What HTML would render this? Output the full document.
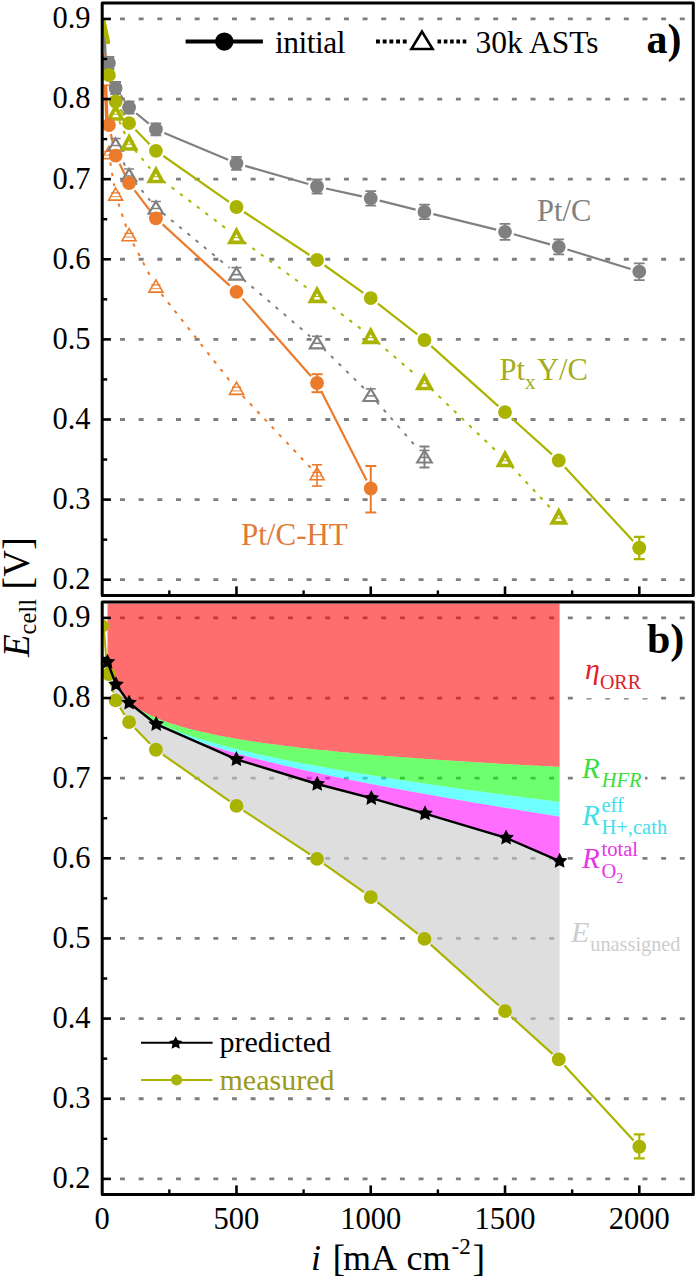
<!DOCTYPE html>
<html><head><meta charset="utf-8"><style>
html,body{margin:0;padding:0;background:#fff;width:698px;height:1280px;overflow:hidden}
svg{display:block;font-family:"Liberation Serif",serif}
</style></head><body>
<svg width="698" height="1280" viewBox="0 0 698 1280">
<rect width="698" height="1280" fill="#fff"/>
<defs><clipPath id="ca"><rect x="102.2" y="3.0" width="591.0999999999999" height="592.4"/></clipPath><clipPath id="cb"><rect x="102.2" y="601.9" width="591.0999999999999" height="592.5000000000001"/></clipPath></defs>
<g clip-path="url(#ca)">
<line x1="120" y1="18.95" x2="691.30" y2="18.95" stroke="#7f7f7f" stroke-width="2.8" stroke-dasharray="5 13.66"/>
<line x1="120" y1="99.06" x2="691.30" y2="99.06" stroke="#7f7f7f" stroke-width="2.8" stroke-dasharray="5 13.66"/>
<line x1="120" y1="179.16" x2="691.30" y2="179.16" stroke="#7f7f7f" stroke-width="2.8" stroke-dasharray="5 13.66"/>
<line x1="120" y1="259.27" x2="691.30" y2="259.27" stroke="#7f7f7f" stroke-width="2.8" stroke-dasharray="5 13.66"/>
<line x1="120" y1="339.38" x2="691.30" y2="339.38" stroke="#7f7f7f" stroke-width="2.8" stroke-dasharray="5 13.66"/>
<line x1="120" y1="419.49" x2="691.30" y2="419.49" stroke="#7f7f7f" stroke-width="2.8" stroke-dasharray="5 13.66"/>
<line x1="120" y1="499.59" x2="691.30" y2="499.59" stroke="#7f7f7f" stroke-width="2.8" stroke-dasharray="5 13.66"/>
<line x1="120" y1="579.70" x2="691.30" y2="579.70" stroke="#7f7f7f" stroke-width="2.8" stroke-dasharray="5 13.66"/>
<line x1="104" y1="20" x2="105.5" y2="56" stroke="#808080" stroke-width="2.5"/>
<line x1="104.5" y1="60" x2="107" y2="124" stroke="#eb7a2a" stroke-width="3.5"/>
<circle cx="103.5" cy="61" r="6.6" fill="#eb7a2a"/>
<polygon points="104.50,72.75 111.50,85.25 97.50,85.25" fill="#fff" stroke="#eb7a2a" stroke-width="1.6" stroke-linejoin="miter"/>
<line x1="103.5" y1="22" x2="108" y2="42" stroke="#aab400" stroke-width="4.5" stroke-linecap="round"/>
<line x1="110.35" y1="162.38" x2="114.19" y2="186.12" stroke="#eb7a2a" stroke-width="2.0" stroke-dasharray="3.4 7.2"/>
<line x1="118.45" y1="203.54" x2="126.23" y2="227.06" stroke="#eb7a2a" stroke-width="2.0" stroke-dasharray="3.4 7.2"/>
<line x1="133.22" y1="243.58" x2="151.74" y2="279.02" stroke="#eb7a2a" stroke-width="2.0" stroke-dasharray="3.4 7.2"/>
<line x1="161.48" y1="294.07" x2="230.91" y2="382.23" stroke="#eb7a2a" stroke-width="2.0" stroke-dasharray="3.4 7.2"/>
<line x1="242.65" y1="395.84" x2="310.86" y2="468.06" stroke="#eb7a2a" stroke-width="2.0" stroke-dasharray="3.4 7.2"/>
<line x1="119.25" y1="152.74" x2="125.43" y2="166.76" stroke="#808080" stroke-width="2.0" stroke-dasharray="3.4 7.2"/>
<line x1="134.79" y1="181.94" x2="150.18" y2="200.56" stroke="#808080" stroke-width="2.0" stroke-dasharray="3.4 7.2"/>
<line x1="162.87" y1="213.21" x2="229.52" y2="267.89" stroke="#808080" stroke-width="2.0" stroke-dasharray="3.4 7.2"/>
<line x1="243.32" y1="279.44" x2="310.19" y2="336.46" stroke="#808080" stroke-width="2.0" stroke-dasharray="3.4 7.2"/>
<line x1="323.47" y1="348.60" x2="364.32" y2="388.60" stroke="#808080" stroke-width="2.0" stroke-dasharray="3.4 7.2"/>
<line x1="376.67" y1="401.68" x2="418.54" y2="449.62" stroke="#808080" stroke-width="2.0" stroke-dasharray="3.4 7.2"/>
<line x1="119.30" y1="121.21" x2="125.38" y2="134.79" stroke="#aab400" stroke-width="2.0" stroke-dasharray="3.4 7.2"/>
<line x1="134.79" y1="149.94" x2="150.18" y2="168.56" stroke="#aab400" stroke-width="2.0" stroke-dasharray="3.4 7.2"/>
<line x1="163.09" y1="180.93" x2="229.30" y2="230.97" stroke="#aab400" stroke-width="2.0" stroke-dasharray="3.4 7.2"/>
<line x1="243.74" y1="241.71" x2="309.77" y2="289.99" stroke="#aab400" stroke-width="2.0" stroke-dasharray="3.4 7.2"/>
<line x1="324.19" y1="300.77" x2="363.60" y2="330.93" stroke="#aab400" stroke-width="2.0" stroke-dasharray="3.4 7.2"/>
<line x1="377.58" y1="342.26" x2="417.63" y2="376.64" stroke="#aab400" stroke-width="2.0" stroke-dasharray="3.4 7.2"/>
<line x1="430.97" y1="388.72" x2="498.52" y2="453.28" stroke="#aab400" stroke-width="2.0" stroke-dasharray="3.4 7.2"/>
<line x1="511.17" y1="466.07" x2="552.59" y2="510.33" stroke="#aab400" stroke-width="2.0" stroke-dasharray="3.4 7.2"/>
<line x1="110.86" y1="133.89" x2="113.68" y2="146.71" stroke="#eb7a2a" stroke-width="2.2"/>
<line x1="119.62" y1="163.78" x2="125.06" y2="174.92" stroke="#eb7a2a" stroke-width="2.2"/>
<line x1="134.57" y1="190.33" x2="150.39" y2="211.07" stroke="#eb7a2a" stroke-width="2.2"/>
<line x1="162.63" y1="224.43" x2="229.75" y2="285.67" stroke="#eb7a2a" stroke-width="2.2"/>
<line x1="242.50" y1="298.62" x2="311.02" y2="376.18" stroke="#eb7a2a" stroke-width="2.2"/>
<line x1="321.17" y1="391.11" x2="366.62" y2="480.39" stroke="#eb7a2a" stroke-width="2.2"/>
<line x1="111.27" y1="71.79" x2="113.27" y2="79.21" stroke="#808080" stroke-width="2.2"/>
<line x1="120.79" y1="95.49" x2="123.89" y2="100.01" stroke="#808080" stroke-width="2.2"/>
<line x1="136.11" y1="113.25" x2="148.86" y2="123.65" stroke="#808080" stroke-width="2.2"/>
<line x1="164.29" y1="132.94" x2="228.09" y2="159.86" stroke="#808080" stroke-width="2.2"/>
<line x1="245.22" y1="165.91" x2="308.29" y2="183.99" stroke="#808080" stroke-width="2.2"/>
<line x1="325.92" y1="188.47" x2="361.87" y2="196.43" stroke="#808080" stroke-width="2.2"/>
<line x1="379.58" y1="200.62" x2="415.63" y2="209.68" stroke="#808080" stroke-width="2.2"/>
<line x1="433.29" y1="214.08" x2="496.19" y2="229.62" stroke="#808080" stroke-width="2.2"/>
<line x1="513.79" y1="234.25" x2="549.97" y2="244.35" stroke="#808080" stroke-width="2.2"/>
<line x1="567.43" y1="249.49" x2="630.61" y2="269.01" stroke="#808080" stroke-width="2.2"/>
<line x1="111.15" y1="83.82" x2="113.39" y2="92.68" stroke="#aab400" stroke-width="2.2"/>
<line x1="120.42" y1="109.24" x2="124.27" y2="115.46" stroke="#aab400" stroke-width="2.2"/>
<line x1="135.40" y1="129.72" x2="149.56" y2="144.28" stroke="#aab400" stroke-width="2.2"/>
<line x1="163.37" y1="156.01" x2="229.01" y2="201.79" stroke="#aab400" stroke-width="2.2"/>
<line x1="244.08" y1="212.00" x2="309.44" y2="255.00" stroke="#aab400" stroke-width="2.2"/>
<line x1="324.46" y1="265.27" x2="363.33" y2="292.83" stroke="#aab400" stroke-width="2.2"/>
<line x1="377.92" y1="303.70" x2="417.29" y2="334.40" stroke="#aab400" stroke-width="2.2"/>
<line x1="431.24" y1="346.07" x2="498.25" y2="406.13" stroke="#aab400" stroke-width="2.2"/>
<line x1="511.79" y1="418.28" x2="551.97" y2="454.42" stroke="#aab400" stroke-width="2.2"/>
<line x1="564.91" y1="467.19" x2="633.13" y2="541.11" stroke="#aab400" stroke-width="2.2"/>
<polygon points="108.91,146.40 115.91,158.60 101.91,158.60" fill="#fff" stroke="#eb7a2a" stroke-width="1.6" stroke-linejoin="miter"/>
<polygon points="115.63,187.90 122.63,200.10 108.63,200.10" fill="#fff" stroke="#eb7a2a" stroke-width="1.6" stroke-linejoin="miter"/>
<polygon points="129.06,228.50 136.06,240.70 122.06,240.70" fill="#fff" stroke="#eb7a2a" stroke-width="1.6" stroke-linejoin="miter"/>
<polygon points="155.91,279.90 162.91,292.10 148.91,292.10" fill="#fff" stroke="#eb7a2a" stroke-width="1.6" stroke-linejoin="miter"/>
<polygon points="236.48,382.20 243.48,394.40 229.48,394.40" fill="#fff" stroke="#eb7a2a" stroke-width="1.6" stroke-linejoin="miter"/>
<polygon points="317.04,467.50 324.04,479.70 310.04,479.70" fill="#fff" stroke="#eb7a2a" stroke-width="1.6" stroke-linejoin="miter"/>
<polygon points="115.63,138.40 122.88,150.60 108.38,150.60" fill="#fff" stroke="#808080" stroke-width="2.2" stroke-linejoin="miter"/>
<polygon points="129.06,168.90 136.31,181.10 121.81,181.10" fill="#fff" stroke="#808080" stroke-width="2.2" stroke-linejoin="miter"/>
<polygon points="155.91,201.40 163.16,213.60 148.66,213.60" fill="#fff" stroke="#808080" stroke-width="2.2" stroke-linejoin="miter"/>
<polygon points="236.48,267.50 243.73,279.70 229.23,279.70" fill="#fff" stroke="#808080" stroke-width="2.2" stroke-linejoin="miter"/>
<polygon points="317.04,336.20 324.29,348.40 309.79,348.40" fill="#fff" stroke="#808080" stroke-width="2.2" stroke-linejoin="miter"/>
<polygon points="370.75,388.80 378.00,401.00 363.50,401.00" fill="#fff" stroke="#808080" stroke-width="2.2" stroke-linejoin="miter"/>
<polygon points="424.46,450.30 431.71,462.50 417.21,462.50" fill="#fff" stroke="#808080" stroke-width="2.2" stroke-linejoin="miter"/>
<polygon points="115.63,107.00 122.13,119.00 109.13,119.00" fill="#fff" stroke="#aab400" stroke-width="3.7" stroke-linejoin="miter"/>
<polygon points="129.06,137.00 135.56,149.00 122.56,149.00" fill="#fff" stroke="#aab400" stroke-width="3.7" stroke-linejoin="miter"/>
<polygon points="155.91,169.50 162.41,181.50 149.41,181.50" fill="#fff" stroke="#aab400" stroke-width="3.7" stroke-linejoin="miter"/>
<polygon points="236.48,230.40 242.98,242.40 229.98,242.40" fill="#fff" stroke="#aab400" stroke-width="3.7" stroke-linejoin="miter"/>
<polygon points="317.04,289.30 323.54,301.30 310.54,301.30" fill="#fff" stroke="#aab400" stroke-width="3.7" stroke-linejoin="miter"/>
<polygon points="370.75,330.40 377.25,342.40 364.25,342.40" fill="#fff" stroke="#aab400" stroke-width="3.7" stroke-linejoin="miter"/>
<polygon points="424.46,376.50 430.96,388.50 417.96,388.50" fill="#fff" stroke="#aab400" stroke-width="3.7" stroke-linejoin="miter"/>
<polygon points="505.02,453.50 511.52,465.50 498.52,465.50" fill="#fff" stroke="#aab400" stroke-width="3.7" stroke-linejoin="miter"/>
<polygon points="558.74,510.90 565.24,522.90 552.24,522.90" fill="#fff" stroke="#aab400" stroke-width="3.7" stroke-linejoin="miter"/>
<line x1="104.31" y1="151.30" x2="113.51" y2="151.30" stroke="#eb7a2a" stroke-width="1.3"/>
<line x1="104.31" y1="155.10" x2="113.51" y2="155.10" stroke="#eb7a2a" stroke-width="1.3" stroke-opacity="0.7"/>
<line x1="111.03" y1="192.80" x2="120.23" y2="192.80" stroke="#eb7a2a" stroke-width="1.3"/>
<line x1="111.03" y1="196.60" x2="120.23" y2="196.60" stroke="#eb7a2a" stroke-width="1.3" stroke-opacity="0.7"/>
<line x1="124.46" y1="233.40" x2="133.66" y2="233.40" stroke="#eb7a2a" stroke-width="1.3"/>
<line x1="124.46" y1="237.20" x2="133.66" y2="237.20" stroke="#eb7a2a" stroke-width="1.3" stroke-opacity="0.7"/>
<line x1="151.31" y1="284.80" x2="160.51" y2="284.80" stroke="#eb7a2a" stroke-width="1.3"/>
<line x1="151.31" y1="288.60" x2="160.51" y2="288.60" stroke="#eb7a2a" stroke-width="1.3" stroke-opacity="0.7"/>
<line x1="231.88" y1="387.10" x2="241.08" y2="387.10" stroke="#eb7a2a" stroke-width="1.3"/>
<line x1="231.88" y1="390.90" x2="241.08" y2="390.90" stroke="#eb7a2a" stroke-width="1.3" stroke-opacity="0.7"/>
<line x1="312.44" y1="472.40" x2="321.64" y2="472.40" stroke="#eb7a2a" stroke-width="1.3"/>
<line x1="312.44" y1="476.20" x2="321.64" y2="476.20" stroke="#eb7a2a" stroke-width="1.3" stroke-opacity="0.7"/>
<line x1="111.13" y1="145.50" x2="120.13" y2="145.50" stroke="#808080" stroke-width="1.6"/>
<line x1="110.63" y1="138.50" x2="120.63" y2="138.50" stroke="#808080" stroke-width="1.6"/>
<line x1="124.56" y1="176.00" x2="133.56" y2="176.00" stroke="#808080" stroke-width="1.6"/>
<line x1="124.06" y1="169.00" x2="134.06" y2="169.00" stroke="#808080" stroke-width="1.6"/>
<line x1="151.41" y1="208.50" x2="160.41" y2="208.50" stroke="#808080" stroke-width="1.6"/>
<line x1="150.91" y1="201.50" x2="160.91" y2="201.50" stroke="#808080" stroke-width="1.6"/>
<line x1="231.98" y1="274.60" x2="240.98" y2="274.60" stroke="#808080" stroke-width="1.6"/>
<line x1="231.48" y1="267.60" x2="241.48" y2="267.60" stroke="#808080" stroke-width="1.6"/>
<line x1="312.54" y1="343.30" x2="321.54" y2="343.30" stroke="#808080" stroke-width="1.6"/>
<line x1="312.04" y1="336.30" x2="322.04" y2="336.30" stroke="#808080" stroke-width="1.6"/>
<line x1="366.25" y1="395.90" x2="375.25" y2="395.90" stroke="#808080" stroke-width="1.6"/>
<line x1="365.75" y1="388.90" x2="375.75" y2="388.90" stroke="#808080" stroke-width="1.6"/>
<line x1="419.96" y1="457.40" x2="428.96" y2="457.40" stroke="#808080" stroke-width="1.6"/>
<line x1="419.46" y1="450.40" x2="429.46" y2="450.40" stroke="#808080" stroke-width="1.6"/>
<line x1="113.13" y1="114.20" x2="118.13" y2="114.20" stroke="#aab400" stroke-width="1.0"/>
<line x1="126.56" y1="144.20" x2="131.56" y2="144.20" stroke="#aab400" stroke-width="1.0"/>
<line x1="153.41" y1="176.70" x2="158.41" y2="176.70" stroke="#aab400" stroke-width="1.0"/>
<line x1="233.98" y1="237.60" x2="238.98" y2="237.60" stroke="#aab400" stroke-width="1.0"/>
<line x1="314.54" y1="296.50" x2="319.54" y2="296.50" stroke="#aab400" stroke-width="1.0"/>
<line x1="368.25" y1="337.60" x2="373.25" y2="337.60" stroke="#aab400" stroke-width="1.0"/>
<line x1="421.96" y1="383.70" x2="426.96" y2="383.70" stroke="#aab400" stroke-width="1.0"/>
<line x1="502.52" y1="460.70" x2="507.52" y2="460.70" stroke="#aab400" stroke-width="1.0"/>
<line x1="556.24" y1="518.10" x2="561.24" y2="518.10" stroke="#aab400" stroke-width="1.0"/>
<line x1="317.04" y1="464.80" x2="317.04" y2="486.10" stroke="#eb7a2a" stroke-width="1.6"/>
<line x1="312.04" y1="464.80" x2="322.04" y2="464.80" stroke="#eb7a2a" stroke-width="1.6"/>
<line x1="312.04" y1="486.10" x2="322.04" y2="486.10" stroke="#eb7a2a" stroke-width="1.6"/>
<line x1="424.46" y1="446.50" x2="424.46" y2="467.50" stroke="#808080" stroke-width="2"/>
<line x1="419.46" y1="446.50" x2="429.46" y2="446.50" stroke="#808080" stroke-width="2"/>
<line x1="419.46" y1="467.50" x2="429.46" y2="467.50" stroke="#808080" stroke-width="2"/>
<circle cx="108.91" cy="63.00" r="6.9" fill="#808080"/>
<line x1="108.91" y1="57.00" x2="108.91" y2="69.00" stroke="#808080" stroke-width="1.8"/>
<line x1="103.51" y1="57.00" x2="114.31" y2="57.00" stroke="#808080" stroke-width="1.8"/>
<line x1="103.51" y1="69.00" x2="114.31" y2="69.00" stroke="#808080" stroke-width="1.8"/>
<circle cx="115.63" cy="88.00" r="6.9" fill="#808080"/>
<line x1="115.63" y1="82.00" x2="115.63" y2="94.00" stroke="#808080" stroke-width="1.8"/>
<line x1="110.23" y1="82.00" x2="121.03" y2="82.00" stroke="#808080" stroke-width="1.8"/>
<line x1="110.23" y1="94.00" x2="121.03" y2="94.00" stroke="#808080" stroke-width="1.8"/>
<circle cx="129.06" cy="107.50" r="6.9" fill="#808080"/>
<line x1="129.06" y1="101.50" x2="129.06" y2="113.50" stroke="#808080" stroke-width="1.8"/>
<line x1="123.66" y1="101.50" x2="134.46" y2="101.50" stroke="#808080" stroke-width="1.8"/>
<line x1="123.66" y1="113.50" x2="134.46" y2="113.50" stroke="#808080" stroke-width="1.8"/>
<circle cx="155.91" cy="129.40" r="6.9" fill="#808080"/>
<line x1="155.91" y1="123.40" x2="155.91" y2="135.40" stroke="#808080" stroke-width="1.8"/>
<line x1="150.51" y1="123.40" x2="161.31" y2="123.40" stroke="#808080" stroke-width="1.8"/>
<line x1="150.51" y1="135.40" x2="161.31" y2="135.40" stroke="#808080" stroke-width="1.8"/>
<circle cx="236.48" cy="163.40" r="6.9" fill="#808080"/>
<line x1="236.48" y1="156.90" x2="236.48" y2="169.90" stroke="#808080" stroke-width="1.8"/>
<line x1="231.08" y1="156.90" x2="241.88" y2="156.90" stroke="#808080" stroke-width="1.8"/>
<line x1="231.08" y1="169.90" x2="241.88" y2="169.90" stroke="#808080" stroke-width="1.8"/>
<circle cx="317.04" cy="186.50" r="6.9" fill="#808080"/>
<line x1="317.04" y1="179.50" x2="317.04" y2="193.50" stroke="#808080" stroke-width="1.8"/>
<line x1="311.64" y1="179.50" x2="322.44" y2="179.50" stroke="#808080" stroke-width="1.8"/>
<line x1="311.64" y1="193.50" x2="322.44" y2="193.50" stroke="#808080" stroke-width="1.8"/>
<circle cx="370.75" cy="198.40" r="6.9" fill="#808080"/>
<line x1="370.75" y1="191.10" x2="370.75" y2="205.70" stroke="#808080" stroke-width="1.8"/>
<line x1="365.35" y1="191.10" x2="376.15" y2="191.10" stroke="#808080" stroke-width="1.8"/>
<line x1="365.35" y1="205.70" x2="376.15" y2="205.70" stroke="#808080" stroke-width="1.8"/>
<circle cx="424.46" cy="211.90" r="6.9" fill="#808080"/>
<line x1="424.46" y1="204.60" x2="424.46" y2="219.20" stroke="#808080" stroke-width="1.8"/>
<line x1="419.06" y1="204.60" x2="429.86" y2="204.60" stroke="#808080" stroke-width="1.8"/>
<line x1="419.06" y1="219.20" x2="429.86" y2="219.20" stroke="#808080" stroke-width="1.8"/>
<circle cx="505.02" cy="231.80" r="6.9" fill="#808080"/>
<line x1="505.02" y1="223.80" x2="505.02" y2="239.80" stroke="#808080" stroke-width="1.8"/>
<line x1="499.62" y1="223.80" x2="510.42" y2="223.80" stroke="#808080" stroke-width="1.8"/>
<line x1="499.62" y1="239.80" x2="510.42" y2="239.80" stroke="#808080" stroke-width="1.8"/>
<circle cx="558.74" cy="246.80" r="6.9" fill="#808080"/>
<line x1="558.74" y1="239.30" x2="558.74" y2="254.30" stroke="#808080" stroke-width="1.8"/>
<line x1="553.34" y1="239.30" x2="564.13" y2="239.30" stroke="#808080" stroke-width="1.8"/>
<line x1="553.34" y1="254.30" x2="564.13" y2="254.30" stroke="#808080" stroke-width="1.8"/>
<circle cx="639.30" cy="271.70" r="6.9" fill="#808080"/>
<line x1="639.30" y1="263.30" x2="639.30" y2="280.10" stroke="#808080" stroke-width="1.8"/>
<line x1="633.90" y1="263.30" x2="644.70" y2="263.30" stroke="#808080" stroke-width="1.8"/>
<line x1="633.90" y1="280.10" x2="644.70" y2="280.10" stroke="#808080" stroke-width="1.8"/>
<circle cx="108.91" cy="75.00" r="6.9" fill="#aab400"/>
<circle cx="115.63" cy="101.50" r="6.9" fill="#aab400"/>
<circle cx="129.06" cy="123.20" r="6.9" fill="#aab400"/>
<circle cx="155.91" cy="150.80" r="6.9" fill="#aab400"/>
<circle cx="236.48" cy="207.00" r="6.9" fill="#aab400"/>
<circle cx="317.04" cy="260.00" r="6.9" fill="#aab400"/>
<circle cx="370.75" cy="298.10" r="6.9" fill="#aab400"/>
<circle cx="424.46" cy="340.00" r="6.9" fill="#aab400"/>
<circle cx="505.02" cy="412.20" r="6.9" fill="#aab400"/>
<circle cx="558.74" cy="460.50" r="6.9" fill="#aab400"/>
<circle cx="639.30" cy="547.80" r="6.9" fill="#aab400"/>
<circle cx="108.91" cy="125.00" r="6.9" fill="#eb7a2a"/>
<circle cx="115.63" cy="155.60" r="6.9" fill="#eb7a2a"/>
<circle cx="129.06" cy="183.10" r="6.9" fill="#eb7a2a"/>
<circle cx="155.91" cy="218.30" r="6.9" fill="#eb7a2a"/>
<circle cx="236.48" cy="291.80" r="6.9" fill="#eb7a2a"/>
<circle cx="317.04" cy="383.00" r="6.9" fill="#eb7a2a"/>
<circle cx="370.75" cy="488.50" r="6.9" fill="#eb7a2a"/>
<line x1="639.30" y1="536.80" x2="639.30" y2="559.20" stroke="#aab400" stroke-width="2.2"/>
<line x1="633.80" y1="536.80" x2="644.80" y2="536.80" stroke="#aab400" stroke-width="2.2"/>
<line x1="633.80" y1="559.20" x2="644.80" y2="559.20" stroke="#aab400" stroke-width="2.2"/>
<line x1="317.04" y1="374.20" x2="317.04" y2="392.20" stroke="#eb7a2a" stroke-width="2"/>
<line x1="311.54" y1="374.20" x2="322.54" y2="374.20" stroke="#eb7a2a" stroke-width="2"/>
<line x1="311.54" y1="392.20" x2="322.54" y2="392.20" stroke="#eb7a2a" stroke-width="2"/>
<line x1="370.75" y1="466.00" x2="370.75" y2="512.50" stroke="#eb7a2a" stroke-width="2"/>
<line x1="365.25" y1="466.00" x2="376.25" y2="466.00" stroke="#eb7a2a" stroke-width="2"/>
<line x1="365.25" y1="512.50" x2="376.25" y2="512.50" stroke="#eb7a2a" stroke-width="2"/>
<circle cx="639.30" cy="547.80" r="6.9" fill="#aab400"/>
</g>
<text x="537" y="220.7" font-size="30.5" fill="#808080">Pt/C</text>
<text x="499.5" y="380" font-size="30.5" fill="#a4ac1c">Pt<tspan font-size="21" dy="8.6">x</tspan><tspan dy="-8.6" dx="1.5">Y/C</tspan></text>
<text x="241" y="545" font-size="31" fill="#e07a36">Pt/C-HT</text>
<line x1="185.6" y1="41.6" x2="262.9" y2="41.6" stroke="#000" stroke-width="4"/>
<circle cx="224.3" cy="41.6" r="9.2" fill="#000"/>
<text x="275" y="52.8" font-size="31.5" textLength="70.5">initial</text>
<line x1="376" y1="41.6" x2="407" y2="41.6" stroke="#000" stroke-width="4" stroke-dasharray="3.9 2.8"/>
<line x1="437.5" y1="41.6" x2="467" y2="41.6" stroke="#000" stroke-width="4" stroke-dasharray="3.6 2.7"/>
<polygon points="422,31.6 432.6,49 411.4,49" fill="none" stroke="#000" stroke-width="2.6"/>
<text x="475.5" y="53" font-size="31.5">30k ASTs</text>
<text x="646.5" y="53" font-size="42" font-weight="bold">a)</text>
<line x1="102.2" y1="18.95" x2="110.90" y2="18.95" stroke="#000" stroke-width="2.6"/>
<text x="90.5" y="28.35" text-anchor="end" font-size="30.5">0.9</text>
<line x1="102.2" y1="99.06" x2="110.90" y2="99.06" stroke="#000" stroke-width="2.6"/>
<text x="90.5" y="108.46" text-anchor="end" font-size="30.5">0.8</text>
<line x1="102.2" y1="179.16" x2="110.90" y2="179.16" stroke="#000" stroke-width="2.6"/>
<text x="90.5" y="188.56" text-anchor="end" font-size="30.5">0.7</text>
<line x1="102.2" y1="259.27" x2="110.90" y2="259.27" stroke="#000" stroke-width="2.6"/>
<text x="90.5" y="268.67" text-anchor="end" font-size="30.5">0.6</text>
<line x1="102.2" y1="339.38" x2="110.90" y2="339.38" stroke="#000" stroke-width="2.6"/>
<text x="90.5" y="348.78" text-anchor="end" font-size="30.5">0.5</text>
<line x1="102.2" y1="419.49" x2="110.90" y2="419.49" stroke="#000" stroke-width="2.6"/>
<text x="90.5" y="428.88" text-anchor="end" font-size="30.5">0.4</text>
<line x1="102.2" y1="499.59" x2="110.90" y2="499.59" stroke="#000" stroke-width="2.6"/>
<text x="90.5" y="508.99" text-anchor="end" font-size="30.5">0.3</text>
<line x1="102.2" y1="579.70" x2="110.90" y2="579.70" stroke="#000" stroke-width="2.6"/>
<text x="90.5" y="589.10" text-anchor="end" font-size="30.5">0.2</text>
<line x1="102.2" y1="59.00" x2="107.20" y2="59.00" stroke="#000" stroke-width="2.4"/>
<line x1="102.2" y1="139.11" x2="107.20" y2="139.11" stroke="#000" stroke-width="2.4"/>
<line x1="102.2" y1="219.22" x2="107.20" y2="219.22" stroke="#000" stroke-width="2.4"/>
<line x1="102.2" y1="299.32" x2="107.20" y2="299.32" stroke="#000" stroke-width="2.4"/>
<line x1="102.2" y1="379.43" x2="107.20" y2="379.43" stroke="#000" stroke-width="2.4"/>
<line x1="102.2" y1="459.54" x2="107.20" y2="459.54" stroke="#000" stroke-width="2.4"/>
<line x1="102.2" y1="539.65" x2="107.20" y2="539.65" stroke="#000" stroke-width="2.4"/>
<line x1="236.48" y1="595.4" x2="236.48" y2="586.40" stroke="#000" stroke-width="2.6"/>
<line x1="370.75" y1="595.4" x2="370.75" y2="586.40" stroke="#000" stroke-width="2.6"/>
<line x1="505.02" y1="595.4" x2="505.02" y2="586.40" stroke="#000" stroke-width="2.6"/>
<line x1="639.30" y1="595.4" x2="639.30" y2="586.40" stroke="#000" stroke-width="2.6"/>
<line x1="169.34" y1="595.4" x2="169.34" y2="590.40" stroke="#000" stroke-width="2.4"/>
<line x1="303.61" y1="595.4" x2="303.61" y2="590.40" stroke="#000" stroke-width="2.4"/>
<line x1="437.89" y1="595.4" x2="437.89" y2="590.40" stroke="#000" stroke-width="2.4"/>
<line x1="572.16" y1="595.4" x2="572.16" y2="590.40" stroke="#000" stroke-width="2.4"/>
<rect x="102.2" y="3.0" width="591.10" height="592.40" fill="none" stroke="#000" stroke-width="3" stroke-linejoin="round"/>
<g clip-path="url(#cb)">
<line x1="120" y1="617.90" x2="691.30" y2="617.90" stroke="#7f7f7f" stroke-width="2.8" stroke-dasharray="5 13.66"/>
<line x1="120" y1="698.04" x2="691.30" y2="698.04" stroke="#7f7f7f" stroke-width="2.8" stroke-dasharray="5 13.66"/>
<line x1="120" y1="778.18" x2="691.30" y2="778.18" stroke="#7f7f7f" stroke-width="2.8" stroke-dasharray="5 13.66"/>
<line x1="120" y1="858.32" x2="691.30" y2="858.32" stroke="#7f7f7f" stroke-width="2.8" stroke-dasharray="5 13.66"/>
<line x1="120" y1="938.46" x2="691.30" y2="938.46" stroke="#7f7f7f" stroke-width="2.8" stroke-dasharray="5 13.66"/>
<line x1="120" y1="1018.60" x2="691.30" y2="1018.60" stroke="#7f7f7f" stroke-width="2.8" stroke-dasharray="5 13.66"/>
<line x1="120" y1="1098.74" x2="691.30" y2="1098.74" stroke="#7f7f7f" stroke-width="2.8" stroke-dasharray="5 13.66"/>
<line x1="120" y1="1178.88" x2="691.30" y2="1178.88" stroke="#7f7f7f" stroke-width="2.8" stroke-dasharray="5 13.66"/>
<polygon points="107.50,603.40 109.76,603.40 112.02,603.40 114.28,603.40 116.00,603.40 116.54,603.40 118.80,603.40 121.06,603.40 123.32,603.40 125.58,603.40 127.84,603.40 129.10,603.40 130.11,603.40 132.37,603.40 134.63,603.40 136.89,603.40 139.15,603.40 141.41,603.40 143.67,603.40 145.93,603.40 148.19,603.40 150.45,603.40 152.71,603.40 154.97,603.40 156.20,603.40 157.23,603.40 159.49,603.40 161.75,603.40 164.01,603.40 166.27,603.40 168.53,603.40 170.79,603.40 173.05,603.40 175.31,603.40 177.58,603.40 179.84,603.40 182.10,603.40 184.36,603.40 186.62,603.40 188.88,603.40 191.14,603.40 193.40,603.40 195.66,603.40 197.92,603.40 200.18,603.40 202.44,603.40 204.70,603.40 206.96,603.40 209.22,603.40 211.48,603.40 213.74,603.40 216.00,603.40 218.26,603.40 220.53,603.40 222.79,603.40 225.05,603.40 227.31,603.40 229.57,603.40 231.83,603.40 234.09,603.40 236.35,603.40 236.40,603.40 238.61,603.40 240.87,603.40 243.13,603.40 245.39,603.40 247.65,603.40 249.91,603.40 252.17,603.40 254.43,603.40 256.69,603.40 258.95,603.40 261.21,603.40 263.47,603.40 265.74,603.40 268.00,603.40 270.26,603.40 272.52,603.40 274.78,603.40 277.04,603.40 279.30,603.40 281.56,603.40 283.82,603.40 286.08,603.40 288.34,603.40 290.60,603.40 292.86,603.40 295.12,603.40 297.38,603.40 299.64,603.40 301.90,603.40 304.16,603.40 306.42,603.40 308.68,603.40 310.95,603.40 313.21,603.40 315.47,603.40 317.20,603.40 317.73,603.40 319.99,603.40 322.25,603.40 324.51,603.40 326.77,603.40 329.03,603.40 331.29,603.40 333.55,603.40 335.81,603.40 338.07,603.40 340.33,603.40 342.59,603.40 344.85,603.40 347.11,603.40 349.37,603.40 351.63,603.40 353.89,603.40 356.16,603.40 358.42,603.40 360.68,603.40 362.94,603.40 365.20,603.40 367.46,603.40 369.72,603.40 371.30,603.40 371.98,603.40 374.24,603.40 376.50,603.40 378.76,603.40 381.02,603.40 383.28,603.40 385.54,603.40 387.80,603.40 390.06,603.40 392.32,603.40 394.58,603.40 396.84,603.40 399.10,603.40 401.37,603.40 403.63,603.40 405.89,603.40 408.15,603.40 410.41,603.40 412.67,603.40 414.93,603.40 417.19,603.40 419.45,603.40 421.71,603.40 423.97,603.40 425.00,603.40 426.23,603.40 428.49,603.40 430.75,603.40 433.01,603.40 435.27,603.40 437.53,603.40 439.79,603.40 442.05,603.40 444.31,603.40 446.58,603.40 448.84,603.40 451.10,603.40 453.36,603.40 455.62,603.40 457.88,603.40 460.14,603.40 462.40,603.40 464.66,603.40 466.92,603.40 469.18,603.40 471.44,603.40 473.70,603.40 475.96,603.40 478.22,603.40 480.48,603.40 482.74,603.40 485.00,603.40 487.26,603.40 489.52,603.40 491.79,603.40 494.05,603.40 496.31,603.40 498.57,603.40 500.83,603.40 503.09,603.40 505.35,603.40 506.10,603.40 507.61,603.40 509.87,603.40 512.13,603.40 514.39,603.40 516.65,603.40 518.91,603.40 521.17,603.40 523.43,603.40 525.69,603.40 527.95,603.40 530.21,603.40 532.47,603.40 534.73,603.40 537.00,603.40 539.26,603.40 541.52,603.40 543.78,603.40 546.04,603.40 548.30,603.40 550.56,603.40 552.82,603.40 555.08,603.40 557.34,603.40 559.60,603.40 559.60,766.92 557.34,766.80 555.08,766.69 552.82,766.57 550.56,766.46 548.30,766.34 546.04,766.23 543.78,766.11 541.52,765.99 539.26,765.87 537.00,765.75 534.73,765.63 532.47,765.51 530.21,765.39 527.95,765.27 525.69,765.15 523.43,765.03 521.17,764.90 518.91,764.78 516.65,764.66 514.39,764.53 512.13,764.40 509.87,764.28 507.61,764.15 506.10,764.06 505.35,764.02 503.09,763.89 500.83,763.76 498.57,763.63 496.31,763.50 494.05,763.37 491.79,763.24 489.52,763.10 487.26,762.97 485.00,762.83 482.74,762.70 480.48,762.56 478.22,762.42 475.96,762.29 473.70,762.15 471.44,762.01 469.18,761.87 466.92,761.72 464.66,761.58 462.40,761.44 460.14,761.29 457.88,761.15 455.62,761.00 453.36,760.86 451.10,760.71 448.84,760.56 446.58,760.41 444.31,760.26 442.05,760.11 439.79,759.95 437.53,759.80 435.27,759.64 433.01,759.49 430.75,759.33 428.49,759.17 426.23,759.01 425.00,758.92 423.97,758.85 421.71,758.69 419.45,758.53 417.19,758.36 414.93,758.20 412.67,758.03 410.41,757.86 408.15,757.70 405.89,757.53 403.63,757.35 401.37,757.18 399.10,757.01 396.84,756.83 394.58,756.66 392.32,756.48 390.06,756.30 387.80,756.12 385.54,755.94 383.28,755.75 381.02,755.57 378.76,755.38 376.50,755.19 374.24,755.00 371.98,754.81 371.30,754.75 369.72,754.62 367.46,754.42 365.20,754.23 362.94,754.03 360.68,753.83 358.42,753.63 356.16,753.42 353.89,753.22 351.63,753.01 349.37,752.80 347.11,752.59 344.85,752.38 342.59,752.17 340.33,751.95 338.07,751.73 335.81,751.51 333.55,751.29 331.29,751.06 329.03,750.83 326.77,750.60 324.51,750.37 322.25,750.14 319.99,749.90 317.73,749.66 317.20,749.61 315.47,749.42 313.21,749.18 310.95,748.93 308.68,748.68 306.42,748.43 304.16,748.17 301.90,747.91 299.64,747.65 297.38,747.39 295.12,747.12 292.86,746.85 290.60,746.58 288.34,746.30 286.08,746.02 283.82,745.74 281.56,745.45 279.30,745.16 277.04,744.86 274.78,744.57 272.52,744.26 270.26,743.96 268.00,743.65 265.74,743.33 263.47,743.01 261.21,742.69 258.95,742.36 256.69,742.03 254.43,741.69 252.17,741.35 249.91,741.00 247.65,740.64 245.39,740.29 243.13,739.92 240.87,739.55 238.61,739.17 236.40,738.80 236.35,738.79 234.09,738.40 231.83,738.00 229.57,737.60 227.31,737.19 225.05,736.77 222.79,736.35 220.53,735.91 218.26,735.47 216.00,735.02 213.74,734.56 211.48,734.09 209.22,733.61 206.96,733.12 204.70,732.62 202.44,732.11 200.18,731.59 197.92,731.05 195.66,730.50 193.40,729.94 191.14,729.37 188.88,728.77 186.62,728.17 184.36,727.55 182.10,726.91 179.84,726.25 177.58,725.57 175.31,724.87 173.05,724.15 170.79,723.41 168.53,722.64 166.27,721.85 164.01,721.02 161.75,720.17 159.49,719.28 157.23,718.36 156.20,717.92 154.97,717.40 152.71,716.39 150.45,715.34 148.19,714.24 145.93,713.09 143.67,711.87 141.41,710.58 139.15,709.22 136.89,707.77 134.63,706.23 132.37,704.57 130.11,702.79 129.10,701.94 127.84,700.85 125.58,697.89 123.32,694.73 121.06,691.57 118.80,688.41 116.54,685.26 116.00,684.50 114.28,679.95 112.02,673.97 109.76,667.98 107.50,662.00" fill="#ff0000" fill-opacity="0.57"/>
<polygon points="107.50,662.00 109.76,667.98 112.02,673.97 114.28,679.95 116.00,684.50 116.54,685.26 118.80,688.41 121.06,691.57 123.32,694.73 125.58,697.89 127.84,700.85 129.10,701.94 130.11,702.79 132.37,704.57 134.63,706.23 136.89,707.77 139.15,709.22 141.41,710.58 143.67,711.87 145.93,713.09 148.19,714.24 150.45,715.34 152.71,716.39 154.97,717.40 156.20,717.92 157.23,718.36 159.49,719.28 161.75,720.17 164.01,721.02 166.27,721.85 168.53,722.64 170.79,723.41 173.05,724.15 175.31,724.87 177.58,725.57 179.84,726.25 182.10,726.91 184.36,727.55 186.62,728.17 188.88,728.77 191.14,729.37 193.40,729.94 195.66,730.50 197.92,731.05 200.18,731.59 202.44,732.11 204.70,732.62 206.96,733.12 209.22,733.61 211.48,734.09 213.74,734.56 216.00,735.02 218.26,735.47 220.53,735.91 222.79,736.35 225.05,736.77 227.31,737.19 229.57,737.60 231.83,738.00 234.09,738.40 236.35,738.79 236.40,738.80 238.61,739.17 240.87,739.55 243.13,739.92 245.39,740.29 247.65,740.64 249.91,741.00 252.17,741.35 254.43,741.69 256.69,742.03 258.95,742.36 261.21,742.69 263.47,743.01 265.74,743.33 268.00,743.65 270.26,743.96 272.52,744.26 274.78,744.57 277.04,744.86 279.30,745.16 281.56,745.45 283.82,745.74 286.08,746.02 288.34,746.30 290.60,746.58 292.86,746.85 295.12,747.12 297.38,747.39 299.64,747.65 301.90,747.91 304.16,748.17 306.42,748.43 308.68,748.68 310.95,748.93 313.21,749.18 315.47,749.42 317.20,749.61 317.73,749.66 319.99,749.90 322.25,750.14 324.51,750.37 326.77,750.60 329.03,750.83 331.29,751.06 333.55,751.29 335.81,751.51 338.07,751.73 340.33,751.95 342.59,752.17 344.85,752.38 347.11,752.59 349.37,752.80 351.63,753.01 353.89,753.22 356.16,753.42 358.42,753.63 360.68,753.83 362.94,754.03 365.20,754.23 367.46,754.42 369.72,754.62 371.30,754.75 371.98,754.81 374.24,755.00 376.50,755.19 378.76,755.38 381.02,755.57 383.28,755.75 385.54,755.94 387.80,756.12 390.06,756.30 392.32,756.48 394.58,756.66 396.84,756.83 399.10,757.01 401.37,757.18 403.63,757.35 405.89,757.53 408.15,757.70 410.41,757.86 412.67,758.03 414.93,758.20 417.19,758.36 419.45,758.53 421.71,758.69 423.97,758.85 425.00,758.92 426.23,759.01 428.49,759.17 430.75,759.33 433.01,759.49 435.27,759.64 437.53,759.80 439.79,759.95 442.05,760.11 444.31,760.26 446.58,760.41 448.84,760.56 451.10,760.71 453.36,760.86 455.62,761.00 457.88,761.15 460.14,761.29 462.40,761.44 464.66,761.58 466.92,761.72 469.18,761.87 471.44,762.01 473.70,762.15 475.96,762.29 478.22,762.42 480.48,762.56 482.74,762.70 485.00,762.83 487.26,762.97 489.52,763.10 491.79,763.24 494.05,763.37 496.31,763.50 498.57,763.63 500.83,763.76 503.09,763.89 505.35,764.02 506.10,764.06 507.61,764.15 509.87,764.28 512.13,764.40 514.39,764.53 516.65,764.66 518.91,764.78 521.17,764.90 523.43,765.03 525.69,765.15 527.95,765.27 530.21,765.39 532.47,765.51 534.73,765.63 537.00,765.75 539.26,765.87 541.52,765.99 543.78,766.11 546.04,766.23 548.30,766.34 550.56,766.46 552.82,766.57 555.08,766.69 557.34,766.80 559.60,766.92 559.60,802.00 557.34,801.72 555.08,801.43 552.82,801.14 550.56,800.85 548.30,800.56 546.04,800.27 543.78,799.98 541.52,799.69 539.26,799.40 537.00,799.11 534.73,798.81 532.47,798.52 530.21,798.23 527.95,797.93 525.69,797.64 523.43,797.34 521.17,797.04 518.91,796.75 516.65,796.45 514.39,796.15 512.13,795.85 509.87,795.55 507.61,795.25 506.10,795.05 505.35,794.95 503.09,794.64 500.83,794.34 498.57,794.04 496.31,793.73 494.05,793.43 491.79,793.12 489.52,792.81 487.26,792.51 485.00,792.20 482.74,791.89 480.48,791.58 478.22,791.27 475.96,790.96 473.70,790.64 471.44,790.33 469.18,790.02 466.92,789.70 464.66,789.39 462.40,789.07 460.14,788.75 457.88,788.43 455.62,788.11 453.36,787.79 451.10,787.47 448.84,787.15 446.58,786.82 444.31,786.50 442.05,786.17 439.79,785.85 437.53,785.52 435.27,785.19 433.01,784.86 430.75,784.53 428.49,784.20 426.23,783.87 425.00,783.69 423.97,783.53 421.71,783.20 419.45,782.86 417.19,782.53 414.93,782.19 412.67,781.85 410.41,781.51 408.15,781.16 405.89,780.82 403.63,780.48 401.37,780.13 399.10,779.78 396.84,779.43 394.58,779.08 392.32,778.73 390.06,778.38 387.80,778.03 385.54,777.67 383.28,777.31 381.02,776.95 378.76,776.59 376.50,776.23 374.24,775.87 371.98,775.50 371.30,775.39 369.72,775.14 367.46,774.77 365.20,774.40 362.94,774.03 360.68,773.66 358.42,773.28 356.16,772.90 353.89,772.53 351.63,772.15 349.37,771.76 347.11,771.38 344.85,770.99 342.59,770.61 340.33,770.22 338.07,769.82 335.81,769.43 333.55,769.03 331.29,768.63 329.03,768.23 326.77,767.83 324.51,767.43 322.25,767.02 319.99,766.61 317.73,766.19 317.20,766.10 315.47,765.78 313.21,765.36 310.95,764.94 308.68,764.52 306.42,764.09 304.16,763.66 301.90,763.23 299.64,762.80 297.38,762.36 295.12,761.92 292.86,761.48 290.60,761.03 288.34,760.58 286.08,760.13 283.82,759.67 281.56,759.21 279.30,758.74 277.04,758.28 274.78,757.80 272.52,757.33 270.26,756.85 268.00,756.36 265.74,755.88 263.47,755.38 261.21,754.89 258.95,754.38 256.69,753.88 254.43,753.37 252.17,752.85 249.91,752.33 247.65,751.80 245.39,751.27 243.13,750.73 240.87,750.19 238.61,749.64 236.40,749.09 236.35,749.08 234.09,748.52 231.83,747.95 229.57,747.37 227.31,746.79 225.05,746.19 222.79,745.60 220.53,744.99 218.26,744.37 216.00,743.75 213.74,743.11 211.48,742.47 209.22,741.82 206.96,741.16 204.70,740.48 202.44,739.80 200.18,739.10 197.92,738.39 195.66,737.67 193.40,736.94 191.14,736.19 188.88,735.42 186.62,734.64 184.36,733.85 182.10,733.04 179.84,732.20 177.58,731.35 175.31,730.48 173.05,729.59 170.79,728.67 168.53,727.73 166.27,726.76 164.01,725.76 161.75,724.74 159.49,723.67 157.23,722.58 156.20,722.07 154.97,721.44 152.71,720.27 150.45,719.04 148.19,717.77 145.93,716.09 143.67,714.30 141.41,712.52 139.15,710.73 136.89,708.95 134.63,707.16 132.37,705.38 130.11,703.59 129.10,702.80 127.84,701.05 125.58,697.89 123.32,694.73 121.06,691.57 118.80,688.41 116.54,685.26 116.00,684.50 114.28,679.95 112.02,673.97 109.76,667.98 107.50,662.00" fill="#00ff00" fill-opacity="0.57"/>
<polygon points="107.50,662.00 109.76,667.98 112.02,673.97 114.28,679.95 116.00,684.50 116.54,685.26 118.80,688.41 121.06,691.57 123.32,694.73 125.58,697.89 127.84,701.05 129.10,702.80 130.11,703.59 132.37,705.38 134.63,707.16 136.89,708.95 139.15,710.73 141.41,712.52 143.67,714.30 145.93,716.09 148.19,717.77 150.45,719.04 152.71,720.27 154.97,721.44 156.20,722.07 157.23,722.58 159.49,723.67 161.75,724.74 164.01,725.76 166.27,726.76 168.53,727.73 170.79,728.67 173.05,729.59 175.31,730.48 177.58,731.35 179.84,732.20 182.10,733.04 184.36,733.85 186.62,734.64 188.88,735.42 191.14,736.19 193.40,736.94 195.66,737.67 197.92,738.39 200.18,739.10 202.44,739.80 204.70,740.48 206.96,741.16 209.22,741.82 211.48,742.47 213.74,743.11 216.00,743.75 218.26,744.37 220.53,744.99 222.79,745.60 225.05,746.19 227.31,746.79 229.57,747.37 231.83,747.95 234.09,748.52 236.35,749.08 236.40,749.09 238.61,749.64 240.87,750.19 243.13,750.73 245.39,751.27 247.65,751.80 249.91,752.33 252.17,752.85 254.43,753.37 256.69,753.88 258.95,754.38 261.21,754.89 263.47,755.38 265.74,755.88 268.00,756.36 270.26,756.85 272.52,757.33 274.78,757.80 277.04,758.28 279.30,758.74 281.56,759.21 283.82,759.67 286.08,760.13 288.34,760.58 290.60,761.03 292.86,761.48 295.12,761.92 297.38,762.36 299.64,762.80 301.90,763.23 304.16,763.66 306.42,764.09 308.68,764.52 310.95,764.94 313.21,765.36 315.47,765.78 317.20,766.10 317.73,766.19 319.99,766.61 322.25,767.02 324.51,767.43 326.77,767.83 329.03,768.23 331.29,768.63 333.55,769.03 335.81,769.43 338.07,769.82 340.33,770.22 342.59,770.61 344.85,770.99 347.11,771.38 349.37,771.76 351.63,772.15 353.89,772.53 356.16,772.90 358.42,773.28 360.68,773.66 362.94,774.03 365.20,774.40 367.46,774.77 369.72,775.14 371.30,775.39 371.98,775.50 374.24,775.87 376.50,776.23 378.76,776.59 381.02,776.95 383.28,777.31 385.54,777.67 387.80,778.03 390.06,778.38 392.32,778.73 394.58,779.08 396.84,779.43 399.10,779.78 401.37,780.13 403.63,780.48 405.89,780.82 408.15,781.16 410.41,781.51 412.67,781.85 414.93,782.19 417.19,782.53 419.45,782.86 421.71,783.20 423.97,783.53 425.00,783.69 426.23,783.87 428.49,784.20 430.75,784.53 433.01,784.86 435.27,785.19 437.53,785.52 439.79,785.85 442.05,786.17 444.31,786.50 446.58,786.82 448.84,787.15 451.10,787.47 453.36,787.79 455.62,788.11 457.88,788.43 460.14,788.75 462.40,789.07 464.66,789.39 466.92,789.70 469.18,790.02 471.44,790.33 473.70,790.64 475.96,790.96 478.22,791.27 480.48,791.58 482.74,791.89 485.00,792.20 487.26,792.51 489.52,792.81 491.79,793.12 494.05,793.43 496.31,793.73 498.57,794.04 500.83,794.34 503.09,794.64 505.35,794.95 506.10,795.05 507.61,795.25 509.87,795.55 512.13,795.85 514.39,796.15 516.65,796.45 518.91,796.75 521.17,797.04 523.43,797.34 525.69,797.64 527.95,797.93 530.21,798.23 532.47,798.52 534.73,798.81 537.00,799.11 539.26,799.40 541.52,799.69 543.78,799.98 546.04,800.27 548.30,800.56 550.56,800.85 552.82,801.14 555.08,801.43 557.34,801.72 559.60,802.00 559.60,816.65 557.34,816.29 555.08,815.93 552.82,815.57 550.56,815.21 548.30,814.85 546.04,814.49 543.78,814.12 541.52,813.76 539.26,813.40 537.00,813.03 534.73,812.67 532.47,812.30 530.21,811.93 527.95,811.57 525.69,811.20 523.43,810.83 521.17,810.46 518.91,810.09 516.65,809.72 514.39,809.35 512.13,808.98 509.87,808.60 507.61,808.23 506.10,807.98 505.35,807.86 503.09,807.48 500.83,807.11 498.57,806.73 496.31,806.35 494.05,805.98 491.79,805.60 489.52,805.22 487.26,804.84 485.00,804.46 482.74,804.08 480.48,803.69 478.22,803.31 475.96,802.93 473.70,802.54 471.44,802.16 469.18,801.77 466.92,801.38 464.66,800.99 462.40,800.60 460.14,800.21 457.88,799.82 455.62,799.43 453.36,799.04 451.10,798.64 448.84,798.25 446.58,797.85 444.31,797.46 442.05,797.06 439.79,796.66 437.53,796.26 435.27,795.86 433.01,795.46 430.75,795.05 428.49,794.65 426.23,794.24 425.00,794.02 423.97,793.84 421.71,793.43 419.45,793.02 417.19,792.61 414.93,792.20 412.67,791.79 410.41,791.38 408.15,790.96 405.89,790.55 403.63,790.13 401.37,789.71 399.10,789.29 396.84,788.87 394.58,788.45 392.32,788.02 390.06,787.60 387.80,787.17 385.54,786.74 383.28,786.31 381.02,785.88 378.76,785.45 376.50,785.02 374.24,784.58 371.98,784.14 371.30,784.01 369.72,783.71 367.46,783.26 365.20,782.82 362.94,782.38 360.68,781.93 358.42,781.49 356.16,781.04 353.89,780.59 351.63,780.13 349.37,779.68 347.11,779.22 344.85,778.76 342.59,778.30 340.33,777.84 338.07,777.38 335.81,776.91 333.55,776.44 331.29,775.97 329.03,775.50 326.77,775.02 324.51,774.54 322.25,774.06 319.99,773.58 317.73,773.10 317.20,772.98 315.47,772.61 313.21,772.12 310.95,771.63 308.68,771.13 306.42,770.63 304.16,770.13 301.90,769.63 299.64,769.12 297.38,768.61 295.12,768.10 292.86,767.58 290.60,767.06 288.34,766.54 286.08,766.01 283.82,765.48 281.56,764.95 279.30,764.42 277.04,763.87 274.78,763.33 272.52,762.78 270.26,762.23 268.00,761.67 265.74,761.11 263.47,760.55 261.21,759.98 258.95,759.40 256.69,758.83 254.43,758.24 252.17,757.65 249.91,757.06 247.65,756.46 245.39,755.85 243.13,755.24 240.87,754.63 238.61,754.00 236.40,753.39 236.35,753.38 234.09,752.74 231.83,752.10 229.57,751.45 227.31,750.79 225.05,750.13 222.79,749.46 220.53,748.78 218.26,748.09 216.00,747.39 213.74,746.69 211.48,745.97 209.22,745.25 206.96,744.51 204.70,743.76 202.44,743.01 200.18,742.24 197.92,741.46 195.66,740.66 193.40,739.86 191.14,739.04 188.88,738.20 186.62,737.35 184.36,736.48 182.10,735.57 179.84,734.57 177.58,733.58 175.31,732.59 173.05,731.60 170.79,730.61 168.53,729.61 166.27,728.62 164.01,727.63 161.75,726.64 159.49,725.51 157.23,724.34 156.20,723.80 154.97,723.13 152.71,721.44 150.45,719.66 148.19,717.87 145.93,716.09 143.67,714.30 141.41,712.52 139.15,710.73 136.89,708.95 134.63,707.16 132.37,705.38 130.11,703.59 129.10,702.80 127.84,701.05 125.58,697.89 123.32,694.73 121.06,691.57 118.80,688.41 116.54,685.26 116.00,684.50 114.28,679.95 112.02,673.97 109.76,667.98 107.50,662.00" fill="#00ffff" fill-opacity="0.57"/>
<polygon points="107.50,662.00 109.76,667.98 112.02,673.97 114.28,679.95 116.00,684.50 116.54,685.26 118.80,688.41 121.06,691.57 123.32,694.73 125.58,697.89 127.84,701.05 129.10,702.80 130.11,703.59 132.37,705.38 134.63,707.16 136.89,708.95 139.15,710.73 141.41,712.52 143.67,714.30 145.93,716.09 148.19,717.87 150.45,719.66 152.71,721.44 154.97,723.13 156.20,723.80 157.23,724.34 159.49,725.51 161.75,726.64 164.01,727.63 166.27,728.62 168.53,729.61 170.79,730.61 173.05,731.60 175.31,732.59 177.58,733.58 179.84,734.57 182.10,735.57 184.36,736.48 186.62,737.35 188.88,738.20 191.14,739.04 193.40,739.86 195.66,740.66 197.92,741.46 200.18,742.24 202.44,743.01 204.70,743.76 206.96,744.51 209.22,745.25 211.48,745.97 213.74,746.69 216.00,747.39 218.26,748.09 220.53,748.78 222.79,749.46 225.05,750.13 227.31,750.79 229.57,751.45 231.83,752.10 234.09,752.74 236.35,753.38 236.40,753.39 238.61,754.00 240.87,754.63 243.13,755.24 245.39,755.85 247.65,756.46 249.91,757.06 252.17,757.65 254.43,758.24 256.69,758.83 258.95,759.40 261.21,759.98 263.47,760.55 265.74,761.11 268.00,761.67 270.26,762.23 272.52,762.78 274.78,763.33 277.04,763.87 279.30,764.42 281.56,764.95 283.82,765.48 286.08,766.01 288.34,766.54 290.60,767.06 292.86,767.58 295.12,768.10 297.38,768.61 299.64,769.12 301.90,769.63 304.16,770.13 306.42,770.63 308.68,771.13 310.95,771.63 313.21,772.12 315.47,772.61 317.20,772.98 317.73,773.10 319.99,773.58 322.25,774.06 324.51,774.54 326.77,775.02 329.03,775.50 331.29,775.97 333.55,776.44 335.81,776.91 338.07,777.38 340.33,777.84 342.59,778.30 344.85,778.76 347.11,779.22 349.37,779.68 351.63,780.13 353.89,780.59 356.16,781.04 358.42,781.49 360.68,781.93 362.94,782.38 365.20,782.82 367.46,783.26 369.72,783.71 371.30,784.01 371.98,784.14 374.24,784.58 376.50,785.02 378.76,785.45 381.02,785.88 383.28,786.31 385.54,786.74 387.80,787.17 390.06,787.60 392.32,788.02 394.58,788.45 396.84,788.87 399.10,789.29 401.37,789.71 403.63,790.13 405.89,790.55 408.15,790.96 410.41,791.38 412.67,791.79 414.93,792.20 417.19,792.61 419.45,793.02 421.71,793.43 423.97,793.84 425.00,794.02 426.23,794.24 428.49,794.65 430.75,795.05 433.01,795.46 435.27,795.86 437.53,796.26 439.79,796.66 442.05,797.06 444.31,797.46 446.58,797.85 448.84,798.25 451.10,798.64 453.36,799.04 455.62,799.43 457.88,799.82 460.14,800.21 462.40,800.60 464.66,800.99 466.92,801.38 469.18,801.77 471.44,802.16 473.70,802.54 475.96,802.93 478.22,803.31 480.48,803.69 482.74,804.08 485.00,804.46 487.26,804.84 489.52,805.22 491.79,805.60 494.05,805.98 496.31,806.35 498.57,806.73 500.83,807.11 503.09,807.48 505.35,807.86 506.10,807.98 507.61,808.23 509.87,808.60 512.13,808.98 514.39,809.35 516.65,809.72 518.91,810.09 521.17,810.46 523.43,810.83 525.69,811.20 527.95,811.57 530.21,811.93 532.47,812.30 534.73,812.67 537.00,813.03 539.26,813.40 541.52,813.76 543.78,814.12 546.04,814.49 548.30,814.85 550.56,815.21 552.82,815.57 555.08,815.93 557.34,816.29 559.60,816.65 559.60,861.10 557.34,860.12 555.08,859.14 552.82,858.16 550.56,857.18 548.30,856.20 546.04,855.22 543.78,854.24 541.52,853.26 539.26,852.28 537.00,851.30 534.73,850.32 532.47,849.34 530.21,848.36 527.95,847.38 525.69,846.40 523.43,845.42 521.17,844.44 518.91,843.46 516.65,842.48 514.39,841.49 512.13,840.51 509.87,839.53 507.61,838.55 506.10,837.90 505.35,837.67 503.09,837.00 500.83,836.32 498.57,835.64 496.31,834.97 494.05,834.29 491.79,833.61 489.52,832.93 487.26,832.26 485.00,831.58 482.74,830.90 480.48,830.22 478.22,829.55 475.96,828.87 473.70,828.19 471.44,827.51 469.18,826.84 466.92,826.16 464.66,825.48 462.40,824.81 460.14,824.13 457.88,823.45 455.62,822.77 453.36,822.10 451.10,821.42 448.84,820.74 446.58,820.06 444.31,819.39 442.05,818.71 439.79,818.03 437.53,817.36 435.27,816.68 433.01,816.00 430.75,815.32 428.49,814.65 426.23,813.97 425.00,813.60 423.97,813.30 421.71,812.66 419.45,812.01 417.19,811.36 414.93,810.71 412.67,810.06 410.41,809.42 408.15,808.77 405.89,808.12 403.63,807.47 401.37,806.82 399.10,806.17 396.84,805.53 394.58,804.88 392.32,804.23 390.06,803.58 387.80,802.93 385.54,802.28 383.28,801.64 381.02,800.99 378.76,800.34 376.50,799.69 374.24,799.04 371.98,798.39 371.30,798.20 369.72,797.78 367.46,797.19 365.20,796.60 362.94,796.00 360.68,795.41 358.42,794.82 356.16,794.22 353.89,793.63 351.63,793.04 349.37,792.44 347.11,791.85 344.85,791.26 342.59,790.66 340.33,790.07 338.07,789.48 335.81,788.88 333.55,788.29 331.29,787.70 329.03,787.10 326.77,786.51 324.51,785.92 322.25,785.32 319.99,784.73 317.73,784.14 317.20,784.00 315.47,783.47 313.21,782.78 310.95,782.10 308.68,781.41 306.42,780.72 304.16,780.03 301.90,779.34 299.64,778.65 297.38,777.97 295.12,777.28 292.86,776.59 290.60,775.90 288.34,775.21 286.08,774.53 283.82,773.84 281.56,773.15 279.30,772.46 277.04,771.77 274.78,771.08 272.52,770.40 270.26,769.71 268.00,769.02 265.74,768.33 263.47,767.64 261.21,766.95 258.95,766.27 256.69,765.58 254.43,764.89 252.17,764.20 249.91,763.51 247.65,762.83 245.39,762.14 243.13,761.45 240.87,760.76 238.61,760.07 236.40,759.40 236.35,759.38 234.09,758.39 231.83,757.39 229.57,756.40 227.31,755.41 225.05,754.42 222.79,753.42 220.53,752.43 218.26,751.44 216.00,750.45 213.74,749.46 211.48,748.46 209.22,747.47 206.96,746.48 204.70,745.49 202.44,744.50 200.18,743.50 197.92,742.51 195.66,741.52 193.40,740.53 191.14,739.53 188.88,738.54 186.62,737.55 184.36,736.56 182.10,735.57 179.84,734.57 177.58,733.58 175.31,732.59 173.05,731.60 170.79,730.61 168.53,729.61 166.27,728.62 164.01,727.63 161.75,726.64 159.49,725.64 157.23,724.65 156.20,724.20 154.97,723.23 152.71,721.44 150.45,719.66 148.19,717.87 145.93,716.09 143.67,714.30 141.41,712.52 139.15,710.73 136.89,708.95 134.63,707.16 132.37,705.38 130.11,703.59 129.10,702.80 127.84,701.05 125.58,697.89 123.32,694.73 121.06,691.57 118.80,688.41 116.54,685.26 116.00,684.50 114.28,679.95 112.02,673.97 109.76,667.98 107.50,662.00" fill="#ff00ff" fill-opacity="0.57"/>
<polygon points="107.50,662.00 109.76,667.98 112.02,673.97 114.28,679.95 116.00,684.50 116.54,685.26 118.80,688.41 121.06,691.57 123.32,694.73 125.58,697.89 127.84,701.05 129.10,702.80 130.11,703.59 132.37,705.38 134.63,707.16 136.89,708.95 139.15,710.73 141.41,712.52 143.67,714.30 145.93,716.09 148.19,717.87 150.45,719.66 152.71,721.44 154.97,723.23 156.20,724.20 157.23,724.65 159.49,725.64 161.75,726.64 164.01,727.63 166.27,728.62 168.53,729.61 170.79,730.61 173.05,731.60 175.31,732.59 177.58,733.58 179.84,734.57 182.10,735.57 184.36,736.56 186.62,737.55 188.88,738.54 191.14,739.53 193.40,740.53 195.66,741.52 197.92,742.51 200.18,743.50 202.44,744.50 204.70,745.49 206.96,746.48 209.22,747.47 211.48,748.46 213.74,749.46 216.00,750.45 218.26,751.44 220.53,752.43 222.79,753.42 225.05,754.42 227.31,755.41 229.57,756.40 231.83,757.39 234.09,758.39 236.35,759.38 236.40,759.40 238.61,760.07 240.87,760.76 243.13,761.45 245.39,762.14 247.65,762.83 249.91,763.51 252.17,764.20 254.43,764.89 256.69,765.58 258.95,766.27 261.21,766.95 263.47,767.64 265.74,768.33 268.00,769.02 270.26,769.71 272.52,770.40 274.78,771.08 277.04,771.77 279.30,772.46 281.56,773.15 283.82,773.84 286.08,774.53 288.34,775.21 290.60,775.90 292.86,776.59 295.12,777.28 297.38,777.97 299.64,778.65 301.90,779.34 304.16,780.03 306.42,780.72 308.68,781.41 310.95,782.10 313.21,782.78 315.47,783.47 317.20,784.00 317.73,784.14 319.99,784.73 322.25,785.32 324.51,785.92 326.77,786.51 329.03,787.10 331.29,787.70 333.55,788.29 335.81,788.88 338.07,789.48 340.33,790.07 342.59,790.66 344.85,791.26 347.11,791.85 349.37,792.44 351.63,793.04 353.89,793.63 356.16,794.22 358.42,794.82 360.68,795.41 362.94,796.00 365.20,796.60 367.46,797.19 369.72,797.78 371.30,798.20 371.98,798.39 374.24,799.04 376.50,799.69 378.76,800.34 381.02,800.99 383.28,801.64 385.54,802.28 387.80,802.93 390.06,803.58 392.32,804.23 394.58,804.88 396.84,805.53 399.10,806.17 401.37,806.82 403.63,807.47 405.89,808.12 408.15,808.77 410.41,809.42 412.67,810.06 414.93,810.71 417.19,811.36 419.45,812.01 421.71,812.66 423.97,813.30 425.00,813.60 426.23,813.97 428.49,814.65 430.75,815.32 433.01,816.00 435.27,816.68 437.53,817.36 439.79,818.03 442.05,818.71 444.31,819.39 446.58,820.06 448.84,820.74 451.10,821.42 453.36,822.10 455.62,822.77 457.88,823.45 460.14,824.13 462.40,824.81 464.66,825.48 466.92,826.16 469.18,826.84 471.44,827.51 473.70,828.19 475.96,828.87 478.22,829.55 480.48,830.22 482.74,830.90 485.00,831.58 487.26,832.26 489.52,832.93 491.79,833.61 494.05,834.29 496.31,834.97 498.57,835.64 500.83,836.32 503.09,837.00 505.35,837.67 506.10,837.90 507.61,838.55 509.87,839.53 512.13,840.51 514.39,841.49 516.65,842.48 518.91,843.46 521.17,844.44 523.43,845.42 525.69,846.40 527.95,847.38 530.21,848.36 532.47,849.34 534.73,850.32 537.00,851.30 539.26,852.28 541.52,853.26 543.78,854.24 546.04,855.22 548.30,856.20 550.56,857.18 552.82,858.16 555.08,859.14 557.34,860.12 559.60,861.10 559.60,1060.39 557.34,1058.20 555.08,1056.16 552.82,1054.13 550.56,1052.10 548.30,1050.06 546.04,1048.03 543.78,1046.00 541.52,1043.97 539.26,1041.93 537.00,1039.90 534.73,1037.87 532.47,1035.83 530.21,1033.80 527.95,1031.77 525.69,1029.74 523.43,1027.70 521.17,1025.67 518.91,1023.64 516.65,1021.60 514.39,1019.57 512.13,1017.54 509.87,1015.51 507.61,1013.47 506.10,1012.12 505.35,1011.44 503.09,1009.41 500.83,1007.39 498.57,1005.36 496.31,1003.34 494.05,1001.31 491.79,999.28 489.52,997.26 487.26,995.23 485.00,993.21 482.74,991.18 480.48,989.16 478.22,987.13 475.96,985.10 473.70,983.08 471.44,981.05 469.18,979.03 466.92,977.00 464.66,974.98 462.40,972.95 460.14,970.92 457.88,968.90 455.62,966.87 453.36,964.85 451.10,962.82 448.84,960.79 446.58,958.77 444.31,956.74 442.05,954.72 439.79,952.69 437.53,950.67 435.27,948.64 433.01,946.61 430.75,944.59 428.49,942.56 426.23,940.54 425.00,939.43 423.97,938.57 421.71,936.80 419.45,935.04 417.19,933.28 414.93,931.51 412.67,929.75 410.41,927.99 408.15,926.22 405.89,924.46 403.63,922.70 401.37,920.93 399.10,919.17 396.84,917.41 394.58,915.64 392.32,913.88 390.06,912.12 387.80,910.35 385.54,908.59 383.28,906.83 381.02,905.06 378.76,903.30 376.50,901.54 374.24,899.77 371.98,898.01 371.30,897.48 369.72,896.32 367.46,894.71 365.20,893.11 362.94,891.51 360.68,889.90 358.42,888.30 356.16,886.70 353.89,885.09 351.63,883.49 349.37,881.89 347.11,880.28 344.85,878.68 342.59,877.08 340.33,875.47 338.07,873.87 335.81,872.27 333.55,870.66 331.29,869.06 329.03,867.45 326.77,865.85 324.51,864.25 322.25,862.64 319.99,861.04 317.73,859.44 317.20,859.06 315.47,857.91 313.21,856.43 310.95,854.94 308.68,853.45 306.42,851.97 304.16,850.48 301.90,848.99 299.64,847.50 297.38,846.02 295.12,844.53 292.86,843.04 290.60,841.56 288.34,840.07 286.08,838.58 283.82,837.10 281.56,835.61 279.30,834.12 277.04,832.63 274.78,831.15 272.52,829.66 270.26,828.17 268.00,826.69 265.74,825.20 263.47,823.71 261.21,822.22 258.95,820.74 256.69,819.25 254.43,817.76 252.17,816.28 249.91,814.79 247.65,813.30 245.39,811.82 243.13,810.33 240.87,808.84 238.61,807.35 236.40,805.90 236.35,805.86 234.09,804.28 231.83,802.71 229.57,801.13 227.31,799.55 225.05,797.98 222.79,796.40 220.53,794.82 218.26,793.25 216.00,791.67 213.74,790.09 211.48,788.52 209.22,786.94 206.96,785.36 204.70,783.79 202.44,782.21 200.18,780.63 197.92,779.06 195.66,777.48 193.40,775.90 191.14,774.32 188.88,772.75 186.62,771.17 184.36,769.59 182.10,768.02 179.84,766.44 177.58,764.86 175.31,763.29 173.05,761.71 170.79,760.13 168.53,758.56 166.27,756.98 164.01,755.40 161.75,753.83 159.49,752.25 157.23,750.67 156.20,749.95 154.97,748.78 152.71,746.46 150.45,744.14 148.19,741.81 145.93,739.49 143.67,737.17 141.41,734.85 139.15,732.52 136.89,730.20 134.63,727.88 132.37,725.55 130.11,723.23 129.10,722.20 127.84,720.19 125.58,716.54 123.32,712.89 121.06,709.23 118.80,705.58 116.54,701.93 116.00,701.05 114.28,695.49 112.02,687.15 109.76,678.81 107.50,674.20" fill="#c8c8c8" fill-opacity="0.6"/>
<circle cx="102.5" cy="626" r="6.5" fill="#aab400"/>
<line x1="104" y1="630" x2="107" y2="668" stroke="#aab400" stroke-width="2"/>
<line x1="110.71" y1="682.31" x2="113.43" y2="692.34" stroke="#aab400" stroke-width="2.2"/>
<line x1="120.05" y1="707.59" x2="124.64" y2="715.01" stroke="#aab400" stroke-width="2.2"/>
<line x1="134.91" y1="728.17" x2="150.05" y2="743.73" stroke="#aab400" stroke-width="2.2"/>
<line x1="162.80" y1="754.56" x2="229.59" y2="801.14" stroke="#aab400" stroke-width="2.2"/>
<line x1="243.49" y1="810.57" x2="310.02" y2="854.33" stroke="#aab400" stroke-width="2.2"/>
<line x1="323.89" y1="863.81" x2="363.90" y2="892.19" stroke="#aab400" stroke-width="2.2"/>
<line x1="377.37" y1="902.22" x2="417.84" y2="933.78" stroke="#aab400" stroke-width="2.2"/>
<line x1="430.72" y1="944.56" x2="498.77" y2="1005.54" stroke="#aab400" stroke-width="2.2"/>
<line x1="511.27" y1="1016.77" x2="552.49" y2="1053.83" stroke="#aab400" stroke-width="2.2"/>
<line x1="564.43" y1="1065.62" x2="633.60" y2="1140.58" stroke="#aab400" stroke-width="2.2"/>
<circle cx="108.51" cy="674.20" r="6.9" fill="#aab400"/>
<circle cx="115.63" cy="700.45" r="6.9" fill="#aab400"/>
<circle cx="129.06" cy="722.15" r="6.9" fill="#aab400"/>
<circle cx="155.91" cy="749.75" r="6.9" fill="#aab400"/>
<circle cx="236.48" cy="805.95" r="6.9" fill="#aab400"/>
<circle cx="317.04" cy="858.95" r="6.9" fill="#aab400"/>
<circle cx="370.75" cy="897.05" r="6.9" fill="#aab400"/>
<circle cx="424.46" cy="938.95" r="6.9" fill="#aab400"/>
<circle cx="505.02" cy="1011.15" r="6.9" fill="#aab400"/>
<circle cx="558.74" cy="1059.45" r="6.9" fill="#aab400"/>
<circle cx="639.30" cy="1146.75" r="6.9" fill="#aab400"/>
<line x1="639.30" y1="1134.40" x2="639.30" y2="1158.30" stroke="#aab400" stroke-width="2.2"/>
<line x1="633.80" y1="1134.40" x2="644.80" y2="1134.40" stroke="#aab400" stroke-width="2.2"/>
<line x1="633.80" y1="1158.30" x2="644.80" y2="1158.30" stroke="#aab400" stroke-width="2.2"/>
<polyline points="107.50,662.00 116.00,684.50 129.10,702.80 156.20,724.20 236.40,759.40 317.20,784.00 371.30,798.20 425.00,813.60 506.10,837.90 559.60,861.10" fill="none" stroke="#000" stroke-width="2.4"/>
<polygon points="107.50,653.70 109.94,658.64 115.39,659.44 111.45,663.28 112.38,668.71 107.50,666.15 102.62,668.71 103.55,663.28 99.61,659.44 105.06,658.64" fill="#000"/>
<polygon points="116.00,676.20 118.44,681.14 123.89,681.94 119.95,685.78 120.88,691.21 116.00,688.65 111.12,691.21 112.05,685.78 108.11,681.94 113.56,681.14" fill="#000"/>
<polygon points="129.10,694.50 131.54,699.44 136.99,700.24 133.05,704.08 133.98,709.51 129.10,706.95 124.22,709.51 125.15,704.08 121.21,700.24 126.66,699.44" fill="#000"/>
<polygon points="156.20,715.90 158.64,720.84 164.09,721.64 160.15,725.48 161.08,730.91 156.20,728.35 151.32,730.91 152.25,725.48 148.31,721.64 153.76,720.84" fill="#000"/>
<polygon points="236.40,751.10 238.84,756.04 244.29,756.84 240.35,760.68 241.28,766.11 236.40,763.55 231.52,766.11 232.45,760.68 228.51,756.84 233.96,756.04" fill="#000"/>
<polygon points="317.20,775.70 319.64,780.64 325.09,781.44 321.15,785.28 322.08,790.71 317.20,788.15 312.32,790.71 313.25,785.28 309.31,781.44 314.76,780.64" fill="#000"/>
<polygon points="371.30,789.90 373.74,794.84 379.19,795.64 375.25,799.48 376.18,804.91 371.30,802.35 366.42,804.91 367.35,799.48 363.41,795.64 368.86,794.84" fill="#000"/>
<polygon points="425.00,805.30 427.44,810.24 432.89,811.04 428.95,814.88 429.88,820.31 425.00,817.75 420.12,820.31 421.05,814.88 417.11,811.04 422.56,810.24" fill="#000"/>
<polygon points="506.10,829.60 508.54,834.54 513.99,835.34 510.05,839.18 510.98,844.61 506.10,842.05 501.22,844.61 502.15,839.18 498.21,835.34 503.66,834.54" fill="#000"/>
<polygon points="559.60,852.80 562.04,857.74 567.49,858.54 563.55,862.38 564.48,867.81 559.60,865.25 554.72,867.81 555.65,862.38 551.71,858.54 557.16,857.74" fill="#000"/>
</g>
<rect x="575" y="660" width="75" height="38.2" fill="#fff"/>
<rect x="574" y="755" width="71" height="36" fill="#fff"/>
<rect x="574" y="840" width="68" height="38" fill="#fff"/>
<rect x="561" y="918" width="127" height="40" fill="#fff"/>
<text x="647" y="652.5" font-size="42" font-weight="bold">b)</text>
<text x="585" y="679" font-size="30" font-style="italic" fill="#e0202a">η<tspan font-style="normal" font-size="20" dy="10">ORR</tspan></text>
<text x="582" y="777.6" font-size="29" font-style="italic" fill="#3ddc3d">R<tspan font-size="20.5" dx="2" dy="9">HFR</tspan></text>
<text x="582" y="825" font-size="29" font-style="italic" fill="#40e0ea">R</text>
<text x="601.5" y="812" font-size="20.5" fill="#40e0ea">eff</text>
<text x="601.5" y="834" font-size="20.5" fill="#40e0ea">H+,cath</text>
<text x="582" y="867.5" font-size="29" font-style="italic" fill="#e634e6">R</text>
<text x="601.5" y="856" font-size="20.5" fill="#e634e6">total</text>
<text x="601.5" y="878" font-size="20.5" fill="#e634e6">O<tspan font-size="14" dy="5">2</tspan></text>
<text x="571" y="942" font-size="30" font-style="italic" fill="#cdcdcd">E<tspan font-style="normal" font-size="20.3" dx="1" dy="9">unassigned</tspan></text>
<line x1="141" y1="1042.7" x2="212.6" y2="1042.7" stroke="#000" stroke-width="2"/>
<polygon points="175.70,1036.20 177.76,1040.37 182.36,1041.04 179.03,1044.28 179.81,1048.86 175.70,1046.70 171.59,1048.86 172.37,1044.28 169.04,1041.04 173.64,1040.37" fill="#000"/>
<text x="219.5" y="1051.5" font-size="30">predicted</text>
<line x1="141" y1="1079.9" x2="212.6" y2="1079.9" stroke="#aab400" stroke-width="2"/>
<circle cx="176.60" cy="1079.90" r="5.6" fill="#aab400"/>
<text x="219.5" y="1090" font-size="30" fill="#9a9a20">measured</text>
<line x1="102.2" y1="617.90" x2="110.90" y2="617.90" stroke="#000" stroke-width="2.6"/>
<text x="90.5" y="627.30" text-anchor="end" font-size="30.5">0.9</text>
<line x1="102.2" y1="698.04" x2="110.90" y2="698.04" stroke="#000" stroke-width="2.6"/>
<text x="90.5" y="707.44" text-anchor="end" font-size="30.5">0.8</text>
<line x1="102.2" y1="778.18" x2="110.90" y2="778.18" stroke="#000" stroke-width="2.6"/>
<text x="90.5" y="787.58" text-anchor="end" font-size="30.5">0.7</text>
<line x1="102.2" y1="858.32" x2="110.90" y2="858.32" stroke="#000" stroke-width="2.6"/>
<text x="90.5" y="867.72" text-anchor="end" font-size="30.5">0.6</text>
<line x1="102.2" y1="938.46" x2="110.90" y2="938.46" stroke="#000" stroke-width="2.6"/>
<text x="90.5" y="947.86" text-anchor="end" font-size="30.5">0.5</text>
<line x1="102.2" y1="1018.60" x2="110.90" y2="1018.60" stroke="#000" stroke-width="2.6"/>
<text x="90.5" y="1028.00" text-anchor="end" font-size="30.5">0.4</text>
<line x1="102.2" y1="1098.74" x2="110.90" y2="1098.74" stroke="#000" stroke-width="2.6"/>
<text x="90.5" y="1108.14" text-anchor="end" font-size="30.5">0.3</text>
<line x1="102.2" y1="1178.88" x2="110.90" y2="1178.88" stroke="#000" stroke-width="2.6"/>
<text x="90.5" y="1188.28" text-anchor="end" font-size="30.5">0.2</text>
<line x1="102.2" y1="657.97" x2="107.20" y2="657.97" stroke="#000" stroke-width="2.4"/>
<line x1="102.2" y1="738.11" x2="107.20" y2="738.11" stroke="#000" stroke-width="2.4"/>
<line x1="102.2" y1="818.25" x2="107.20" y2="818.25" stroke="#000" stroke-width="2.4"/>
<line x1="102.2" y1="898.39" x2="107.20" y2="898.39" stroke="#000" stroke-width="2.4"/>
<line x1="102.2" y1="978.53" x2="107.20" y2="978.53" stroke="#000" stroke-width="2.4"/>
<line x1="102.2" y1="1058.67" x2="107.20" y2="1058.67" stroke="#000" stroke-width="2.4"/>
<line x1="102.2" y1="1138.81" x2="107.20" y2="1138.81" stroke="#000" stroke-width="2.4"/>
<line x1="236.48" y1="1194.4" x2="236.48" y2="1185.40" stroke="#000" stroke-width="2.6"/>
<line x1="370.75" y1="1194.4" x2="370.75" y2="1185.40" stroke="#000" stroke-width="2.6"/>
<line x1="505.02" y1="1194.4" x2="505.02" y2="1185.40" stroke="#000" stroke-width="2.6"/>
<line x1="639.30" y1="1194.4" x2="639.30" y2="1185.40" stroke="#000" stroke-width="2.6"/>
<line x1="169.34" y1="1194.4" x2="169.34" y2="1189.40" stroke="#000" stroke-width="2.4"/>
<line x1="303.61" y1="1194.4" x2="303.61" y2="1189.40" stroke="#000" stroke-width="2.4"/>
<line x1="437.89" y1="1194.4" x2="437.89" y2="1189.40" stroke="#000" stroke-width="2.4"/>
<line x1="572.16" y1="1194.4" x2="572.16" y2="1189.40" stroke="#000" stroke-width="2.4"/>
<rect x="102.2" y="601.9" width="591.10" height="592.50" fill="none" stroke="#000" stroke-width="3" stroke-linejoin="round"/>
<text x="102.20" y="1228.5" text-anchor="middle" font-size="30.5">0</text>
<text x="236.48" y="1228.5" text-anchor="middle" font-size="30.5">500</text>
<text x="370.75" y="1228.5" text-anchor="middle" font-size="30.5">1000</text>
<text x="505.02" y="1228.5" text-anchor="middle" font-size="30.5">1500</text>
<text x="639.30" y="1228.5" text-anchor="middle" font-size="30.5">2000</text>
<text y="1269.5" font-size="36"><tspan x="311" font-style="italic">i</tspan><tspan x="332.5" y="1271" font-size="38">[</tspan><tspan x="343" y="1269.5">mA</tspan><tspan x="406.5">cm</tspan><tspan x="451.5" y="1253.6" font-size="23">-2</tspan><tspan x="472.5" y="1271" font-size="38">]</tspan></text>
<text transform="translate(29.4,657) rotate(-90)" font-size="37"><tspan font-style="italic">E</tspan><tspan font-size="24.5" dy="7">cell</tspan><tspan dy="-7"> </tspan><tspan font-size="39" dy="1.2">[</tspan><tspan dy="-1.2">V</tspan><tspan font-size="39" dy="1.2">]</tspan></text>
</svg></body></html>
